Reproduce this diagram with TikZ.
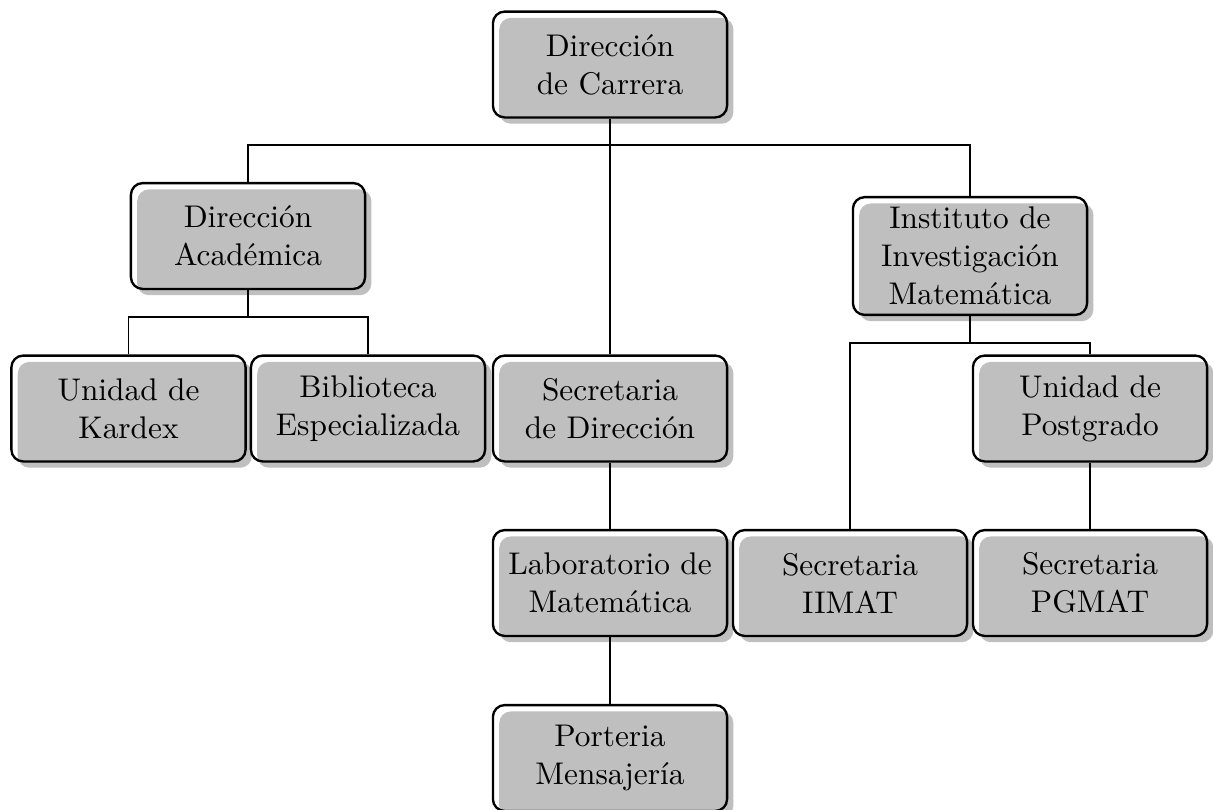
\documentclass[tikz,border=0pt]{standalone}
\usepackage{amsmath}
\usepackage{tikz}
\usetikzlibrary{shadows}
\tikzstyle{unidad}=[draw, thick, rounded corners, align=center, minimum width=2.81cm, minimum height=1.27cm, font=\fontsize{10.7}{13}\selectfont, drop shadow={opacity=1, fill=black!25}]
\tikzstyle{enlace}=[semithick]

\begin{document}
\begin{tikzpicture}
        \useasboundingbox (0, 0) rectangle (14.556, -9.708);
        \node[unidad] (DC) at (7.32, -0.774) {Dirección\\de Carrera};
        \node[unidad] (DA) at (2.976, -2.832) {Dirección\\Académica};
        \node[unidad] (IIM) at (11.64, -3.072) {Instituto de\\Investigación\\Matemática};
        \node[unidad] (Kardex) at (1.542, -4.902) {Unidad de\\Kardex};
        \node[unidad] (Biblio) at (4.416, -4.902) {Biblioteca\\Especializada};
        \node[unidad] (SD) at (7.32, -4.902) {Secretaria\\de Dirección};
        \node[unidad] (Postgrado) at (13.08, -4.902) {Unidad de\\Postgrado};
        \node[unidad] (Lab) at (7.32, -6.996) {Laboratorio de\\Matemática};
        \node[unidad] (IIMAT) at (10.2, -6.996) {Secretaria\\IIMAT};
        \node[unidad] (PGMAT) at (13.08, -6.996) {Secretaria\\PGMAT};
        \node[unidad] (Porteria) at (7.32, -9.096) {Porteria\\Mensajería};
        \coordinate (busA) at (7.32, -1.74);
        \coordinate (busB) at (2.976, -3.804);
        \coordinate (busC) at (11.64, -4.116);
        \draw[enlace] (DC) -- (SD);
        \draw[enlace] (DA.north) |- (busA) -| (IIM.north);
        \draw[enlace] (DA) -- (busB);
        \draw[enlace] (Kardex.north) |- (busB) -| (Biblio.north);
        \draw[enlace] (IIM) -- (busC);
        \draw[enlace] (IIMAT.north) |- (busC) -| (Postgrado.north);
        \draw[enlace] (SD) -- (Lab);
        \draw[enlace] (Lab) -- (Porteria);
        \draw[enlace] (Postgrado) -- (PGMAT);
    \end{tikzpicture}
\end{document}
